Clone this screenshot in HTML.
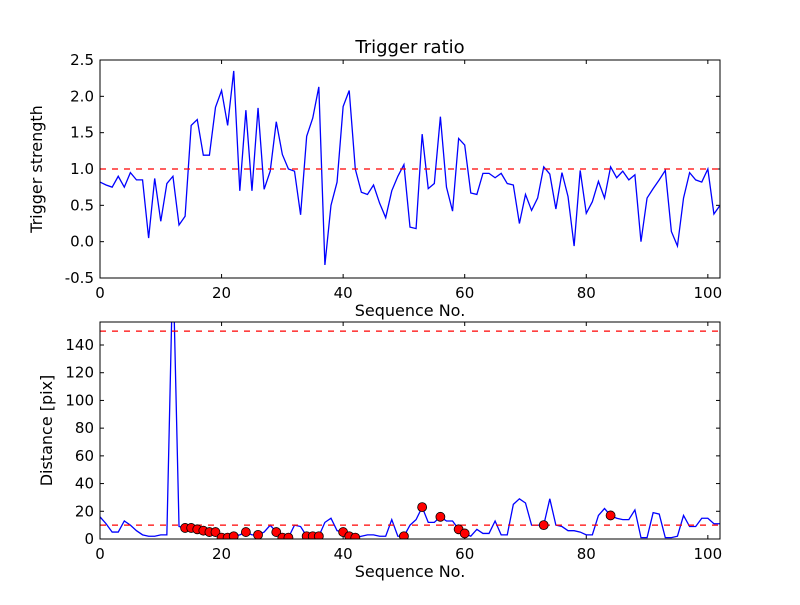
<!DOCTYPE html>
<html><head><meta charset="utf-8"><style>
body{margin:0;background:#fff}
svg text{font-family:"DejaVu Sans","Liberation Sans",sans-serif;fill:#000}
</style></head><body>
<svg id="chart" width="800" height="600" viewBox="0 0 800 600"></svg>
<script>
const xTicks=[0,20,40,60,80,100];
const topYTicks=[-0.5,0.0,0.5,1.0,1.5,2.0,2.5];
const botYTicks=[0,20,40,60,80,100,120,140];
const ratio=[0.82,0.78,0.75,0.9,0.75,0.95,0.85,0.85,0.05,0.87,0.28,0.8,0.9,0.23,0.35,1.6,1.68,1.19,1.19,1.85,2.08,1.6,2.35,0.7,1.81,0.7,1.84,0.72,0.97,1.65,1.2,1.0,0.97,0.37,1.45,1.7,2.13,-0.32,0.5,0.82,1.86,2.08,1.0,0.68,0.65,0.78,0.53,0.33,0.7,0.9,1.06,0.2,0.18,1.48,0.73,0.8,1.72,0.75,0.42,1.42,1.33,0.67,0.65,0.94,0.94,0.88,0.94,0.8,0.78,0.25,0.65,0.43,0.6,1.03,0.93,0.45,0.95,0.62,-0.06,0.98,0.39,0.55,0.83,0.6,1.03,0.88,0.97,0.85,0.92,0.0,0.6,0.73,0.85,0.98,0.14,-0.06,0.6,0.95,0.85,0.82,1.0,0.38,0.5];
const distance=[16,11,5,5,13,10,6,3,2,2,3,3,200,9,8,8,7,6,5,5,1,1,2,3,5,3,3,5,10,5,1,1,10,9,2,2,2,12,15,6,5,2,1,2,3,3,2,2,14,2,2,10,14,23,12,12,16,13,13,7,4,2,7,4,4,13,3,3,25,29,26,10,10,10,29,10,9,6,6,5,3,3,17,22,17,15,14,14,21,1,1,19,18,1,1,2,17,9,9,15,15,11,11];
const markerIdx=[14,15,16,17,18,19,20,21,22,24,26,29,30,31,34,35,36,40,41,42,50,53,56,59,60,73,84];
const topThreshold=[1.0];
const botThresholds=[150,10];

const svg=document.getElementById('chart');
const NS='http://www.w3.org/2000/svg';
function mk(tag,attrs,parent){const e=document.createElementNS(NS,tag);for(const k in attrs)e.setAttribute(k,attrs[k]);(parent||svg).appendChild(e);return e;}
const L=100,R=720;
const xs=v=>L+(v/102)*(R-L);
const ty=v=>278-(v+0.5)/3*218;
const by=v=>539-v*1.3857;

function axes(top,bot,yTicks,yFn,fmt,name,ylabel,ylx){
  const g=mk('g',{});
  
  
  const cp=mk('clipPath',{id:'clip-'+name},g);
  mk('rect',{x:L,y:top,width:R-L,height:bot-top},cp);
  xTicks.forEach(t=>{const x=xs(t);
    mk('line',{x1:x,x2:x,y1:bot,y2:bot-4,stroke:'#000'},g);
    mk('line',{x1:x,x2:x,y1:top,y2:top+4,stroke:'#000'},g);
    const tx=mk('text',{x:x,y:bot+20,'text-anchor':'middle','font-size':15},g);tx.textContent=t;
    
    });
  yTicks.forEach(t=>{const y=yFn(t);
    mk('line',{x1:L,x2:L+4,y1:y,y2:y,stroke:'#000'},g);
    mk('line',{x1:R,x2:R-4,y1:y,y2:y,stroke:'#000'},g);
    const tx=mk('text',{x:L-6,y:y+5,'text-anchor':'end','font-size':15},g);tx.textContent=fmt(t);
    
    });
  const xl=mk('text',{x:410,y:bot+38,'text-anchor':'middle','font-size':16},g);xl.textContent='Sequence No.';
  
  
  const yl=mk('text',{x:ylx,y:(top+bot)/2,'text-anchor':'middle','font-size':16,transform:`rotate(-90 ${ylx} ${(top+bot)/2})`},g);yl.textContent=ylabel;
  
  
  return g;
}
// top
const gt=axes(60,278,topYTicks,ty,t=>t.toFixed(1),'top-axes','Trigger strength',42);
const tl=mk('path',{d:ratio.map((v,i)=>(i?'L':'M')+xs(i)+','+ty(v)).join(''),fill:'none',stroke:'#0000ff','stroke-width':1.3,'clip-path':'url(#clip-top-axes)'},gt);


topThreshold.forEach(v=>{const l=mk('line',{x1:L,x2:R,y1:ty(v),y2:ty(v),stroke:'#ff0000','stroke-dasharray':'6,6','stroke-width':1.2},gt);
  
  });
mk('rect',{x:L,y:60,width:R-L,height:218,fill:'none',stroke:'#000'},gt);
const title=mk('text',{x:410,y:53,'text-anchor':'middle','font-size':18});title.textContent='Trigger ratio';


// bottom
const gb=axes(322,539,botYTicks,by,t=>t,'bottom-axes','Distance [pix]',52);
const bl=mk('path',{d:distance.map((v,i)=>(i?'L':'M')+xs(i)+','+by(v)).join(''),fill:'none',stroke:'#0000ff','stroke-width':1.3,'clip-path':'url(#clip-bottom-axes)'},gb);


botThresholds.forEach(v=>{const l=mk('line',{x1:L,x2:R,y1:by(v),y2:by(v),stroke:'#ff0000','stroke-dasharray':'6,6','stroke-width':1.2},gb);
  
  });
markerIdx.forEach(i=>{const c=mk('circle',{cx:xs(i),cy:by(distance[i]),r:4.5,fill:'#ff0000',stroke:'#000','stroke-width':0.8,'clip-path':'url(#clip-bottom-axes)'},gb);
  
  });
mk('rect',{x:L,y:322,width:R-L,height:217,fill:'none',stroke:'#000'},gb);
</script>
</body></html>
